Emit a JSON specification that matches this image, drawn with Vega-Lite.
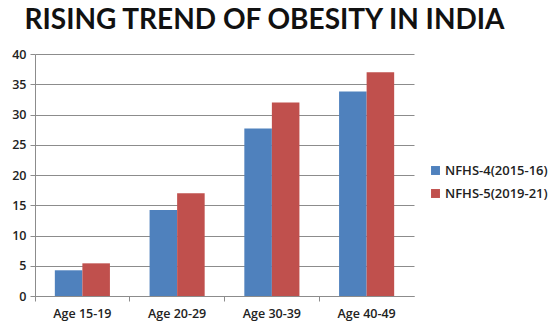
{
  "$schema": "https://vega.github.io/schema/vega-lite/v6.json",
  "width": 379,
  "height": 242,
  "autosize": "none",
  "padding": {"left": 35, "top": 54, "right": 138, "bottom": 28},
  "background": "white",
  "title": {
    "text": "RISING TREND OF OBESITY IN INDIA",
    "font": "Lato",
    "fontSize": 28,
    "fontWeight": "bold",
    "color": "#111111",
    "anchor": "middle",
    "frame": "group",
    "dx": 40,
    "baseline": "bottom",
    "offset": 10,
    "dy": 25
  },
  "data": {
    "values": [
      {"age": "Age 15-19", "survey": "NFHS-4(2015-16)", "value": 4.25},
      {"age": "Age 15-19", "survey": "NFHS-5(2019-21)", "value": 5.4},
      {"age": "Age 20-29", "survey": "NFHS-4(2015-16)", "value": 14.2},
      {"age": "Age 20-29", "survey": "NFHS-5(2019-21)", "value": 17.0},
      {"age": "Age 30-39", "survey": "NFHS-4(2015-16)", "value": 27.7},
      {"age": "Age 30-39", "survey": "NFHS-5(2019-21)", "value": 32.0},
      {"age": "Age 40-49", "survey": "NFHS-4(2015-16)", "value": 33.8},
      {"age": "Age 40-49", "survey": "NFHS-5(2019-21)", "value": 37.0}
    ]
  },
  "mark": {"type": "bar"},
  "encoding": {
    "x": {
      "field": "age",
      "type": "nominal",
      "scale": {"paddingInner": 0, "paddingOuter": 0},
      "axis": {
        "title": null,
        "labelAngle": 0,
        "bandPosition": 0,
        "labelFont": "Open Sans",
        "labelFontSize": 12.5,
        "labelFontWeight": 600,
        "labelColor": "#222222",
        "labelPadding": 6,
        "tickColor": "#8c8c8c",
        "tickSize": 5,
        "domainColor": "#8c8c8c",
        "grid": false
      }
    },
    "xOffset": {
      "field": "survey",
      "type": "nominal",
      "scale": {"paddingInner": 0, "paddingOuter": 0.72}
    },
    "y": {
      "field": "value",
      "type": "quantitative",
      "scale": {"domain": [0, 40], "nice": false},
      "axis": {
        "title": null,
        "values": [0, 5, 10, 15, 20, 25, 30, 35, 40],
        "labelFont": "Open Sans",
        "labelFontSize": 12.5,
        "labelFontWeight": 600,
        "labelColor": "#222222",
        "labelPadding": 4,
        "tickColor": "#8c8c8c",
        "tickSize": 5,
        "domainColor": "#8c8c8c",
        "gridColor": "#8c8c8c",
        "gridOpacity": 1
      }
    },
    "color": {
      "field": "survey",
      "type": "nominal",
      "scale": {"range": ["#4F81BD", "#C0504D"]},
      "legend": {
        "title": null,
        "orient": "none",
        "legendX": 394,
        "legendY": 110,
        "symbolType": "square",
        "symbolSize": 80,
        "symbolStrokeWidth": 0,
        "labelFont": "Open Sans",
        "labelFontSize": 13,
        "labelFontWeight": 600,
        "labelColor": "#222222",
        "rowPadding": 9,
        "labelOffset": 3
      }
    }
  },
  "config": {"view": {"stroke": null}}
}
